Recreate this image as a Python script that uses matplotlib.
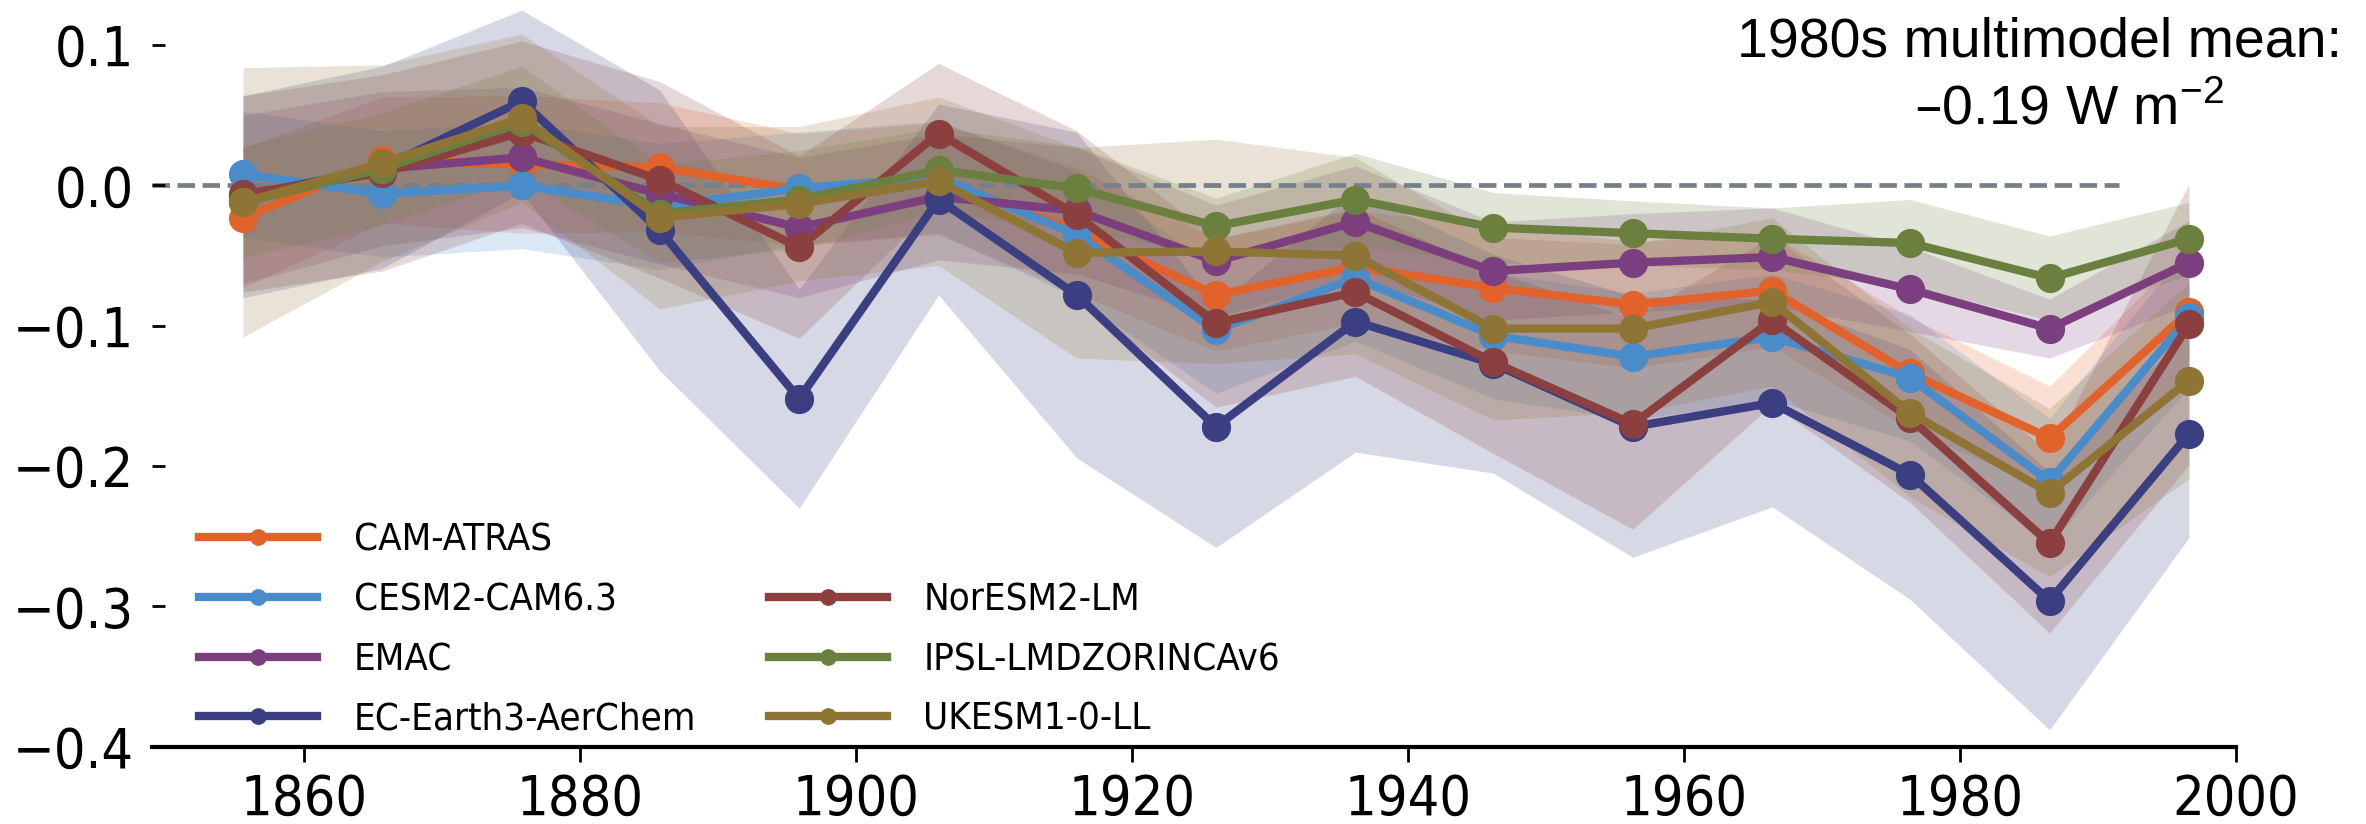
import numpy as np
import matplotlib
matplotlib.use("Agg")
import matplotlib.pyplot as plt
from matplotlib.lines import Line2D

# -------------------------
# decadal means (W m-2)
# -------------------------
years = [1855.6, 1865.7, 1875.8, 1885.8, 1895.9, 1906.0, 1916.0, 1926.1,
         1936.2, 1946.2, 1956.3, 1966.4, 1976.4, 1986.5, 1996.6]

models = ["CAM-ATRAS", "CESM2-CAM6.3", "EMAC", "EC-Earth3-AerChem",
          "NorESM2-LM", "IPSL-LMDZORINCAv6", "UKESM1-0-LL"]
colors = ["#E1622B", "#4A8BC9", "#7B3F7F", "#3B3F82",
          "#8B3F3F", "#6B7F3E", "#8E7535"]

cam_atras = [-0.023, 0.018, 0.015, 0.013, -0.003, 0.005, -0.032, -0.078,
             -0.058, -0.073, -0.085, -0.075, -0.134, -0.180, -0.090]
cesm2 = [0.008, -0.006, 0.0, -0.015, -0.002, 0.006, -0.035, -0.103,
         -0.066, -0.107, -0.122, -0.108, -0.137, -0.211, -0.094]
emac = [-0.010, 0.012, 0.020, -0.006, -0.030, -0.008, -0.018, -0.054,
        -0.026, -0.061, -0.055, -0.051, -0.074, -0.102, -0.055]
ec_earth = [-0.008, 0.013, 0.060, -0.032, -0.152, -0.010, -0.078, -0.172,
            -0.097, -0.127, -0.172, -0.155, -0.206, -0.296, -0.177]
noresm = [-0.006, 0.009, 0.038, 0.004, -0.044, 0.037, -0.021, -0.098,
          -0.076, -0.126, -0.170, -0.096, -0.166, -0.255, -0.099]
ipsl = [-0.012, 0.012, 0.045, -0.020, -0.010, 0.011, -0.002, -0.029,
        -0.010, -0.030, -0.034, -0.038, -0.041, -0.066, -0.038]
ukesm = [-0.012, 0.016, 0.048, -0.023, -0.013, 0.003, -0.048, -0.047,
         -0.050, -0.102, -0.102, -0.083, -0.162, -0.219, -0.139]

# half widths of the shaded ranges
sp_cam = [0.050, 0.045, 0.049, 0.046, 0.040, 0.040, 0.045, 0.040,
          0.040, 0.045, 0.045, 0.040, 0.040, 0.037, 0.045]
sp_cesm = [0.045, 0.045, 0.045, 0.045, 0.040, 0.040, 0.045, 0.045,
           0.045, 0.045, 0.045, 0.045, 0.045, 0.045, 0.050]
sp_emac = [0.060, 0.055, 0.050, 0.050, 0.050, 0.045, 0.045, 0.040,
           0.040, 0.035, 0.035, 0.035, 0.030, 0.021, 0.030]
sp_ec = [0.072, 0.072, 0.065, 0.100, 0.078, 0.068, 0.116, 0.086,
         0.093, 0.078, 0.093, 0.074, 0.089, 0.092, 0.074]
sp_nor = [0.070, 0.070, 0.065, 0.070, 0.065, 0.050, 0.060, 0.060,
          0.060, 0.065, 0.075, 0.060, 0.060, 0.064, 0.100]
sp_ipsl = [0.040, 0.040, 0.040, 0.035, 0.035, 0.030, 0.030, 0.020,
           0.033, 0.025, 0.023, 0.022, 0.031, 0.030, 0.026]
sp_uk = [0.096, 0.070, 0.060, 0.065, 0.055, 0.060, 0.075, 0.080,
         0.070, 0.065, 0.060, 0.060, 0.060, 0.060, 0.070]

means = [cam_atras, cesm2, emac, ec_earth, noresm, ipsl, ukesm]
spreads = [sp_cam, sp_cesm, sp_emac, sp_ec, sp_nor, sp_ipsl, sp_uk]

annot_1 = "1980s multimodel mean:"
annot_2 = "\u20130.19 W m$^{\\mathregular{-2}}$"

plt.rcParams["font.family"] = "DejaVu Sans"

fig = plt.figure(figsize=(23.66, 8.24), dpi=100)
ax = fig.add_axes([0.0642, 0.0938, 0.8808, 0.9062])

for m, s, c in zip(means, spreads, colors):
    m = np.array(m)
    s = np.array(s)
    ax.fill_between(years, m - s, m + s, color=c, alpha=0.2, lw=0, zorder=1)

ax.hlines(0, 1849, 1991.5, colors="#76808B", linestyles="--", lw=3.4, zorder=1.5)

for m, c, name in zip(means, colors, models):
    ax.plot(years, m, "-o", color=c, lw=6, ms=20, label=name, zorder=3)

ax.set_xlim(1849, 2000)
ax.set_ylim(-0.4, 0.1322)
ax.set_xticks([1860, 1880, 1900, 1920, 1940, 1960, 1980, 2000])
ax.set_yticks([-0.4, -0.3, -0.2, -0.1, 0.0, 0.1])

for sp in ["top", "right", "left"]:
    ax.spines[sp].set_visible(False)
ax.spines["bottom"].set_linewidth(3)

ax.tick_params(axis="x", direction="out", length=11, width=2, pad=8)
ax.tick_params(axis="y", direction="in", length=9, width=2, pad=13)
for lab in ax.get_xticklabels() + ax.get_yticklabels():
    lab.set_fontsize(40)
    lab.set_fontstretch("condensed")

# legend: second column sits one row lower, so pad it with an empty entry
handles, labels = ax.get_legend_handles_labels()
blank = Line2D([], [], color="none")
handles = handles[:4] + [blank] + handles[4:]
labels = labels[:4] + [" "] + labels[4:]
ax.legend(handles, labels, ncol=2, frameon=False,
          prop={"size": 27.5, "stretch": "condensed"},
          loc="lower left", bbox_to_anchor=(0.0226, 0.012),
          borderaxespad=0, borderpad=0, handlelength=3.1,
          handletextpad=0.95, columnspacing=1.9, labelspacing=0.62,
          markerscale=0.55)

fig.text(0.862, 0.949, annot_1, ha="center", va="center", fontsize=40,
         family="Liberation Sans")
fig.text(0.8745, 0.866, annot_2, ha="center", va="center", fontsize=40,
         family="Liberation Sans")

fig.savefig("out.png", dpi=100)
